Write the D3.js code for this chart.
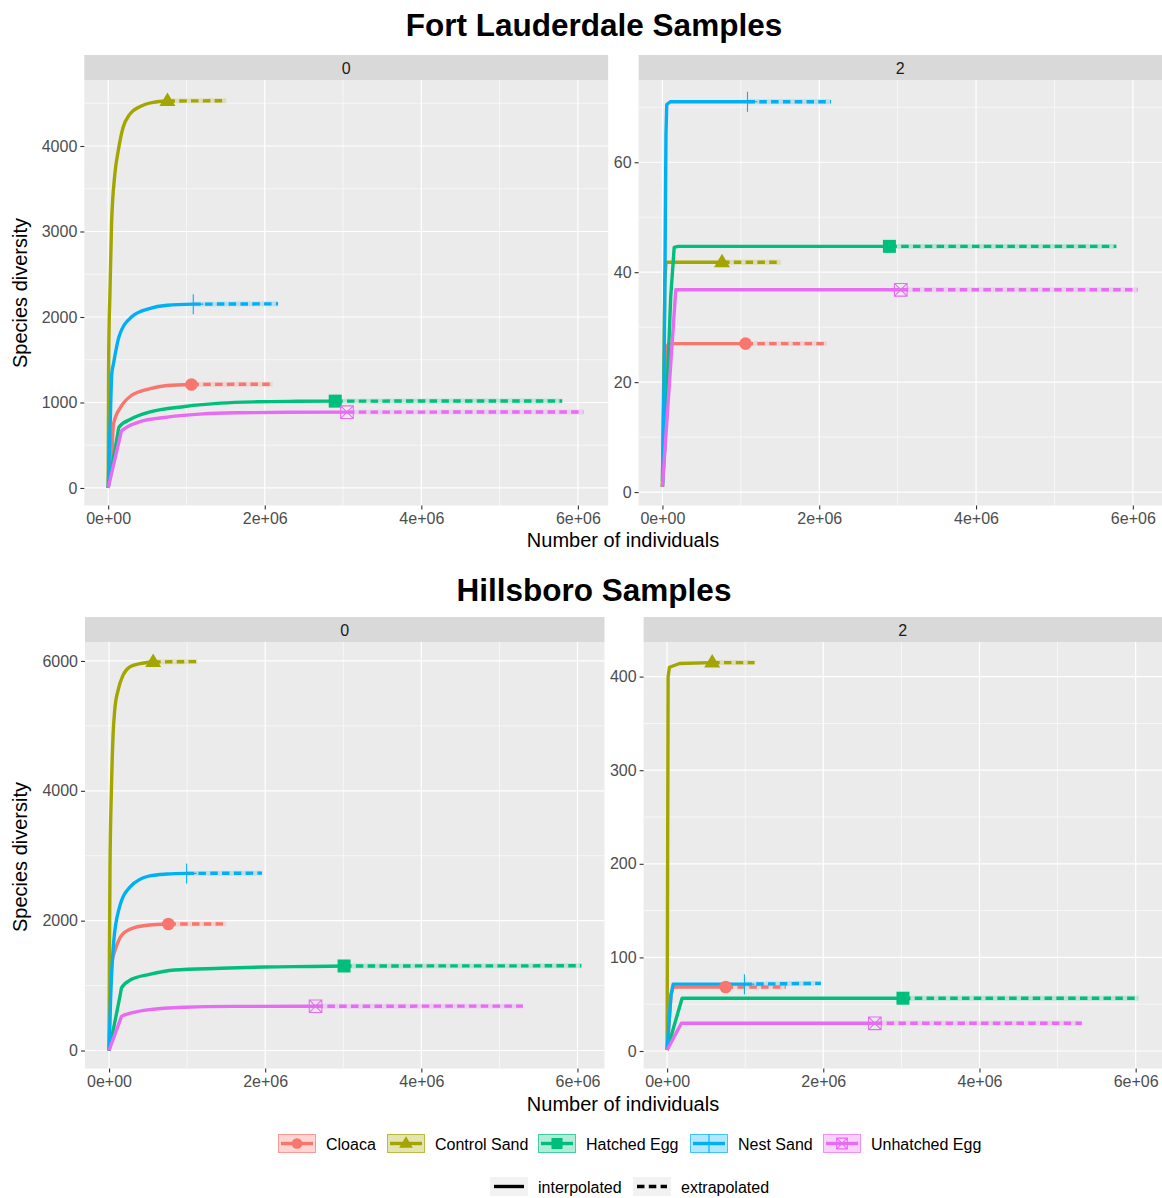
<!DOCTYPE html>
<html>
<head>
<meta charset="utf-8">
<script src="https://cdn.jsdelivr.net/npm/d3@7"></script>
<style>
  body { margin: 0; background: #fff; }
  text { font-family: "Liberation Sans", Arial, sans-serif; }
</style>
</head>
<body>
<div id="chart"></div>
<script>
// groups, in legend order
const groups = ["Cloaca", "Control Sand", "Hatched Egg", "Nest Sand", "Unhatched Egg"];
const groupColors = ["#F8766D", "#A3A500", "#00BF7D", "#00B0F6", "#E76BF3"];
const groupShapes = ["circle", "triangle", "square", "plus", "squarecross"];

const xTicks = [0, 2e6, 4e6, 6e6];
const xTickLabels = ["0e+00", "2e+06", "4e+06", "6e+06"];

// [individuals, species diversity]; last interpolated point = observed sample
// Fort Lauderdale, order q = 0
const fl0_cloaca  = [[0,1],[0.046e6,400],[0.068e6,750],[0.16e6,945],[0.297e6,1082],[0.525e6,1160],[0.753e6,1199],[1.064e6,1211]];
const fl0_control = [[0,1],[0.005e6,1300],[0.012e6,1900],[0.021e6,2216],[0.043e6,3078],[0.085e6,3667],[0.128e6,3941],[0.19e6,4216],[0.277e6,4373],[0.404e6,4459],[0.574e6,4510],[0.757e6,4526]];
const fl0_hatched = [[0,1],[0.127e6,660],[0.137e6,711],[0.297e6,809],[0.525e6,887],[0.98e6,953],[1.44e6,992],[1.9e6,1008],[2.4e6,1014],[2.9e6,1016]];
const fl0_nest    = [[0,1],[0.023e6,672],[0.046e6,1336],[0.068e6,1453],[0.137e6,1766],[0.297e6,2000],[0.525e6,2098],[0.753e6,2137],[1.087e6,2150]];
const fl0_unhatch = [[0,1],[0.158e6,622],[0.169e6,664],[0.388e6,770],[0.753e6,828],[1.21e6,867],[1.67e6,880],[2.3e6,885],[3.05e6,887]];
const fl0_extEnd  = [[2.1e6,1214],[1.51e6,4530],[5.8e6,1018],[2.17e6,2154],[6.07e6,889]];
const fl0_yTicks  = [0, 1000, 2000, 3000, 4000];

// Fort Lauderdale, order q = 2
const fl2_cloaca  = [[0,1],[0.03e6,14],[0.06e6,26.5],[0.08e6,27],[1.06e6,27]];
const fl2_control = [[0,1],[0.03e6,38],[0.045e6,41.8],[0.76e6,41.8]];
const fl2_hatched = [[0,1],[0.03e6,8],[0.106e6,35.6],[0.15e6,44.5],[0.2e6,44.7],[2.895e6,44.7]];
const fl2_nest    = [[0,2],[0.02e6,20],[0.035e6,45],[0.045e6,65],[0.055e6,70.5],[0.1e6,71],[1.085e6,71]];
const fl2_unhatch = [[0,1],[0.17e6,36.8],[3.04e6,36.8]];
const fl2_extEnd  = [[2.1e6,27],[1.51e6,41.8],[5.79e6,44.7],[2.15e6,71],[6.06e6,36.8]];
const fl2_yTicks  = [0, 20, 40, 60];

// Hillsboro, order q = 0
const h0_cloaca  = [[0,1],[0.015e6,900],[0.037e6,1354],[0.082e6,1561],[0.174e6,1793],[0.334e6,1897],[0.517e6,1933],[0.76e6,1948]];
const h0_control = [[0,1],[0.005e6,1500],[0.012e6,2800],[0.03e6,4000],[0.051e6,4840],[0.073e6,5247],[0.116e6,5552],[0.18e6,5781],[0.266e6,5908],[0.394e6,5959],[0.565e6,5985]];
const h0_hatched = [[0,1],[0.148e6,890],[0.16e6,966],[0.288e6,1096],[0.517e6,1173],[0.837e6,1240],[1.43e6,1266],[2e6,1287],[2.58e6,1295],[3.01e6,1302]];
const h0_nest    = [[0,1],[0.02e6,800],[0.059e6,1664],[0.128e6,2181],[0.27e6,2520],[0.52e6,2690],[0.74e6,2718],[0.994e6,2728]];
const h0_unhatch = [[0,1],[0.148e6,487],[0.16e6,527],[0.288e6,579],[0.517e6,630],[0.975e6,667],[1.6e6,680],[2.645e6,682]];
const h0_extEnd  = [[1.5e6,1950],[1.13e6,5990],[6.05e6,1305],[1.96e6,2732],[5.3e6,684]];
const h0_yTicks  = [0, 2000, 4000, 6000];

// Hillsboro, order q = 2
const h2_cloaca  = [[0,1],[0.05e6,60],[0.078e6,68.3],[0.75e6,68.3]];
const h2_control = [[0,1],[0.005e6,150],[0.013e6,400],[0.03e6,410],[0.16e6,414],[0.577e6,415]];
const h2_hatched = [[0,1],[0.192e6,56.4],[3.02e6,56.4]];
const h2_nest    = [[0,2],[0.05e6,60],[0.078e6,71.4],[0.99e6,71.4]];
const h2_unhatch = [[0,1],[0.183e6,29.6],[2.66e6,29.6]];
const h2_extEnd  = [[1.52e6,68.3],[1.12e6,415],[6.04e6,56.4],[1.97e6,72.3],[5.31e6,29.6]];
const h2_yTicks  = [0, 100, 200, 300, 400];

const W = 1162, H = 1198;
const svg = d3.select('#chart').append('svg')
  .attr('width', W).attr('height', H)
  .attr('viewBox', `0 0 ${W} ${H}`);

// panel layout (pixels) and scale domains
const panels = [
  {strip: '0', left: 84.3, right: 608.2, top: 80, bottom: 505.5, stripTop: 55, smooth: true,
   xDomain: [-0.305e6, 6.387e6], yDomain: [-205, 4772], yTicks: fl0_yTicks,
   curves: [fl0_cloaca, fl0_control, fl0_hatched, fl0_nest, fl0_unhatch], ext: fl0_extEnd},
  {strip: '2', left: 638.6, right: 1162, top: 80, bottom: 505.5, stripTop: 55, smooth: false,
   xDomain: [-0.304e6, 6.372e6], yDomain: [-2.44, 74.96], yTicks: fl2_yTicks,
   curves: [fl2_cloaca, fl2_control, fl2_hatched, fl2_nest, fl2_unhatch], ext: fl2_extEnd},
  {strip: '0', left: 85, right: 604.5, top: 642, bottom: 1068.5, stripTop: 617, smooth: true,
   xDomain: [-0.308e6, 6.346e6], yDomain: [-277, 6292], yTicks: h0_yTicks,
   curves: [h0_cloaca, h0_control, h0_hatched, h0_nest, h0_unhatch], ext: h0_extEnd},
  {strip: '2', left: 643.6, right: 1162, top: 642, bottom: 1068.5, stripTop: 617, smooth: false,
   xDomain: [-0.301e6, 6.337e6], yDomain: [-18.7, 437], yTicks: h2_yTicks,
   curves: [h2_cloaca, h2_control, h2_hatched, h2_nest, h2_unhatch], ext: h2_extEnd}
];

const LINE_W = 3.4;
const DASH = '7.5,4.3';

// draws one point shape centred at (0,0) inside g
function drawShape(g, shape, color, s) {
  if (shape === 'circle') {
    g.append('circle').attr('r', 6.3 * s).attr('fill', color);
  } else if (shape === 'triangle') {
    g.append('path').attr('d', `M0,${-8.5*s}L${8*s},${5*s}L${-8*s},${5*s}Z`).attr('fill', color);
  } else if (shape === 'square') {
    g.append('rect').attr('x', -6.5*s).attr('y', -6.5*s).attr('width', 13*s).attr('height', 13*s).attr('fill', color);
  } else if (shape === 'plus') {
    g.append('path').attr('d', `M${-10*s},0H${10*s}M0,${-10*s}V${10*s}`)
      .attr('stroke', color).attr('stroke-width', 1.1).attr('fill', 'none');
  } else if (shape === 'squarecross') {
    const h = 6.3 * s;
    g.append('path').attr('d', `M${-h},${-h}H${h}V${h}H${-h}ZM${-h},${-h}L${h},${h}M${h},${-h}L${-h},${h}`)
      .attr('stroke', color).attr('stroke-width', 1.1).attr('fill', 'none');
  }
}

panels.forEach((p, pi) => {
  const x = d3.scaleLinear().domain(p.xDomain).range([p.left, p.right]);
  const y = d3.scaleLinear().domain(p.yDomain).range([p.bottom, p.top]);
  const g = svg.append('g');

  g.append('rect')
    .attr('x', p.left).attr('y', p.top)
    .attr('width', p.right - p.left).attr('height', p.bottom - p.top)
    .attr('fill', '#ebebeb');

  // minor grid
  const yStep = p.yTicks[1] - p.yTicks[0];
  const yMinor = [p.yTicks[0] - yStep / 2, ...p.yTicks.map(t => t + yStep / 2)]
    .filter(v => v > p.yDomain[0] && v < p.yDomain[1]);
  const xMinor = [-1e6, 1e6, 3e6, 5e6, 7e6].filter(v => v > p.xDomain[0] && v < p.xDomain[1]);
  g.selectAll('.ymin').data(yMinor).join('line')
    .attr('x1', p.left).attr('x2', p.right).attr('y1', d => y(d)).attr('y2', d => y(d))
    .attr('stroke', '#fff').attr('stroke-width', 0.6);
  g.selectAll('.xmin').data(xMinor).join('line')
    .attr('y1', p.top).attr('y2', p.bottom).attr('x1', d => x(d)).attr('x2', d => x(d))
    .attr('stroke', '#fff').attr('stroke-width', 0.6);
  // major grid
  g.selectAll('.ymaj').data(p.yTicks).join('line')
    .attr('x1', p.left).attr('x2', p.right).attr('y1', d => y(d)).attr('y2', d => y(d))
    .attr('stroke', '#fff').attr('stroke-width', 1.2);
  g.selectAll('.xmaj').data(xTicks).join('line')
    .attr('y1', p.top).attr('y2', p.bottom).attr('x1', d => x(d)).attr('x2', d => x(d))
    .attr('stroke', '#fff').attr('stroke-width', 1.2);

  const clipId = 'clip' + pi;
  svg.append('clipPath').attr('id', clipId).append('rect')
    .attr('x', p.left).attr('y', p.top)
    .attr('width', p.right - p.left).attr('height', p.bottom - p.top);
  const plot = g.append('g').attr('clip-path', `url(#${clipId})`);

  const line = d3.line().x(d => x(d[0])).y(d => y(d[1]))
    .curve(p.smooth ? d3.curveMonotoneX : d3.curveLinear);

  p.curves.forEach((c, i) => {
    const obs = c[c.length - 1];
    const ext = [obs, p.ext[i]];
    // faint confidence band along the extrapolation
    plot.append('path').attr('d', line(ext))
      .attr('fill', 'none').attr('stroke', groupColors[i])
      .attr('stroke-opacity', 0.2).attr('stroke-width', LINE_W + 1.5);
    plot.append('path').attr('d', line(ext))
      .attr('fill', 'none').attr('stroke', groupColors[i])
      .attr('stroke-width', LINE_W).attr('stroke-dasharray', DASH);
    plot.append('path').attr('d', line(c))
      .attr('fill', 'none').attr('stroke', groupColors[i])
      .attr('stroke-width', LINE_W).attr('stroke-linejoin', 'round');
  });
  p.curves.forEach((c, i) => {
    const obs = c[c.length - 1];
    const m = plot.append('g').attr('transform', `translate(${x(obs[0])},${y(obs[1])})`);
    drawShape(m, groupShapes[i], groupColors[i], 1);
  });

  // axes
  const yAxis = g.append('g').attr('transform', `translate(${p.left},0)`)
    .call(d3.axisLeft(y).tickValues(p.yTicks).tickSize(4).tickPadding(3).tickFormat(d3.format('d')));
  const xAxis = g.append('g').attr('transform', `translate(0,${p.bottom})`)
    .call(d3.axisBottom(x).tickValues(xTicks).tickSize(4).tickPadding(3)
      .tickFormat((d, k) => xTickLabels[k]));
  [yAxis, xAxis].forEach(a => {
    a.select('.domain').remove();
    a.selectAll('line').attr('stroke', '#333').attr('stroke-width', 1.1);
    a.selectAll('text').attr('fill', '#4d4d4d').attr('font-size', 16)
      .attr('font-family', '"Liberation Sans", Arial, sans-serif');
  });

  // facet strip
  g.append('rect')
    .attr('x', p.left).attr('y', p.stripTop)
    .attr('width', p.right - p.left).attr('height', p.top - p.stripTop)
    .attr('fill', '#d9d9d9');
  g.append('text')
    .attr('x', (p.left + p.right) / 2).attr('y', (p.top + p.stripTop) / 2 + 6)
    .attr('text-anchor', 'middle').attr('font-size', 16).attr('fill', '#1a1a1a')
    .text(p.strip);
});

// titles
const titles = [{t: 'Fort Lauderdale Samples', y: 36}, {t: 'Hillsboro Samples', y: 601}];
titles.forEach(d => {
  svg.append('text').attr('x', 594).attr('y', d.y)
    .attr('text-anchor', 'middle').attr('font-size', 31.5).attr('font-weight', 'bold')
    .attr('fill', '#000').text(d.t);
});
[547, 1111].forEach(yy => {
  svg.append('text').attr('x', 623).attr('y', yy)
    .attr('text-anchor', 'middle').attr('font-size', 20).attr('fill', '#000')
    .text('Number of individuals');
});
[293, 857].forEach(yy => {
  svg.append('text').attr('transform', `translate(27,${yy}) rotate(-90)`)
    .attr('text-anchor', 'middle').attr('font-size', 20).attr('fill', '#000')
    .text('Species diversity');
});

// legend: groups
const keyX = [278, 387, 538, 690, 823];
groups.forEach((name, i) => {
  const k = svg.append('g').attr('transform', `translate(${keyX[i]},1134)`);
  k.append('rect').attr('x', 0.5).attr('y', 0.5).attr('width', 37).attr('height', 18)
    .attr('fill', groupColors[i]).attr('fill-opacity', 0.3)
    .attr('stroke', groupColors[i]).attr('stroke-opacity', 0.7).attr('stroke-width', 1);
  k.append('line').attr('x1', 3).attr('x2', 35).attr('y1', 9.5).attr('y2', 9.5)
    .attr('stroke', groupColors[i]).attr('stroke-width', LINE_W);
  const m = k.append('g').attr('transform', 'translate(19,9.5)');
  drawShape(m, groupShapes[i], groupColors[i], groupShapes[i] === 'plus' ? 0.95 : 0.85);
  svg.append('text').attr('x', keyX[i] + 48).attr('y', 1150)
    .attr('font-size', 16).attr('fill', '#000').text(name);
});

// legend: line types
const ltyNames = ['interpolated', 'extrapolated'];
const ltyX = [490, 633];
ltyNames.forEach((name, i) => {
  const k = svg.append('g').attr('transform', `translate(${ltyX[i]},1177)`);
  k.append('rect').attr('width', 38).attr('height', 19).attr('fill', '#f2f2f2');
  k.append('line').attr('x1', 4).attr('x2', 34).attr('y1', 9.5).attr('y2', 9.5)
    .attr('stroke', '#000').attr('stroke-width', LINE_W)
    .attr('stroke-dasharray', i === 1 ? DASH : null);
  svg.append('text').attr('x', ltyX[i] + 48).attr('y', 1193)
    .attr('font-size', 16).attr('fill', '#000').text(name);
});
</script>
</body>
</html>
